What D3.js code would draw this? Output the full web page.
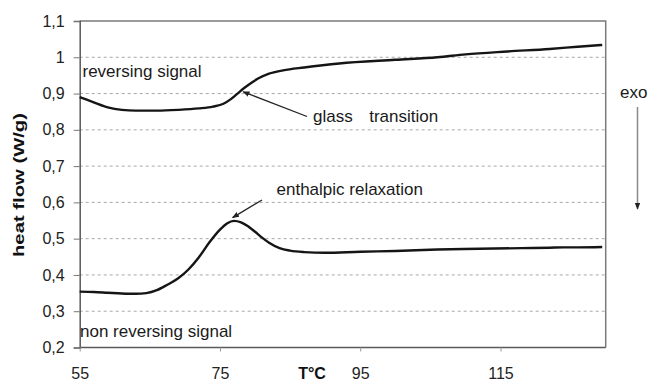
<!DOCTYPE html>
<html>
<head>
<meta charset="utf-8">
<script src="https://cdn.jsdelivr.net/npm/d3@7"></script>
<style>
  html, body { margin: 0; padding: 0; background: #fff; }
  svg { display: block; font-family: "Liberation Sans", Arial, sans-serif; }
</style>
</head>
<body>
<svg id="chart" width="652" height="381"></svg>
<script>
// Temperature axis (°C) and heat-flow ticks (W/g)
const xTicks = [55, 75, 95, 115];
const yTicks = [0.2, 0.3, 0.4, 0.5, 0.6, 0.7, 0.8, 0.9, 1.0, 1.1];
const yTickLabels = ["0,2", "0,3", "0,4", "0,5", "0,6", "0,7", "0,8", "0,9", "1", "1,1"];

// Reversing heat-flow signal
const revT = [55, 57, 59, 61, 63, 66, 69, 72, 74, 75.5, 76.5, 77.5, 78.5, 79.5, 80.5, 82, 84, 87, 92, 100, 106, 110, 116, 122, 126, 129.5];
const revV = [0.890, 0.876, 0.862, 0.855, 0.853, 0.853, 0.855, 0.859, 0.864, 0.872, 0.884, 0.900, 0.916, 0.930, 0.942, 0.955, 0.964, 0.972, 0.983, 0.993, 1.000, 1.008, 1.016, 1.023, 1.029, 1.034];

// Non-reversing heat-flow signal
const nonT = [55, 57, 59, 61, 63, 64.5, 66, 67.5, 69, 70.5, 72, 73.5, 75, 76, 77, 78, 79, 80, 81, 82, 83.5, 85, 87, 90, 95, 100, 106, 112, 118, 122, 124, 126, 129.5];
const nonV = [0.354, 0.353, 0.351, 0.349, 0.348, 0.350, 0.358, 0.373, 0.390, 0.415, 0.449, 0.490, 0.525, 0.542, 0.549, 0.545, 0.534, 0.519, 0.503, 0.489, 0.474, 0.467, 0.463, 0.461, 0.464, 0.466, 0.470, 0.472, 0.474, 0.475, 0.476, 0.476, 0.477];

const svg = d3.select("#chart");
const plotLeft = 79.7, plotRight = 605.7, plotTop = 21, plotBottom = 347.5;

const x = d3.scaleLinear().domain([55, 130]).range([plotLeft, plotRight]);
const y = d3.scaleLinear().domain([0.2, 1.1]).range([plotBottom, plotTop]);

// dashed horizontal gridlines
svg.append("g")
  .selectAll("line")
  .data(yTicks.filter(v => v > 0.25 && v < 1.05))
  .join("line")
  .attr("x1", plotLeft).attr("x2", plotRight)
  .attr("y1", d => y(d)).attr("y2", d => y(d))
  .attr("stroke", "#a8a8a8")
  .attr("stroke-width", 1)
  .attr("stroke-dasharray", "3,3");

// plot frame (top and right)
svg.append("path")
  .attr("d", `M${plotLeft},${plotTop}H${plotRight}V${plotBottom}`)
  .attr("fill", "none")
  .attr("stroke", "#7a7a7a")
  .attr("stroke-width", 1.5);

// y axis
const yAxis = d3.axisLeft(y)
  .tickValues(yTicks)
  .tickSize(6)
  .tickFormat((d, i) => yTickLabels[i]);
const gy = svg.append("g").attr("transform", `translate(${plotLeft},0)`).call(yAxis);
gy.select(".domain").attr("stroke", "#5a5a5a").attr("stroke-width", 1.5);
gy.selectAll(".tick line").attr("stroke", "#777").attr("stroke-width", 1);
gy.selectAll(".tick text")
  .attr("x", -15)
  .attr("fill", "#222")
  .style("font-size", "16px")
  .style("font-family", "'Liberation Sans', Arial, sans-serif");

// x axis
const xAxis = d3.axisBottom(x)
  .tickValues(xTicks)
  .tickSize(4)
  .tickSizeOuter(0)
  .tickFormat(d3.format("d"));
const gx = svg.append("g").attr("transform", `translate(0,${plotBottom})`).call(xAxis);
gx.select(".domain").attr("stroke", "#5a5a5a").attr("stroke-width", 1.5)
  .attr("d", `M${plotLeft},0H${plotRight}`);
gx.selectAll(".tick line").attr("stroke", "#999").attr("stroke-width", 1);
gx.selectAll(".tick text")
  .attr("y", 20)
  .attr("dy", "0.71em")
  .attr("fill", "#222")
  .style("font-size", "16px")
  .style("font-family", "'Liberation Sans', Arial, sans-serif");

// axis titles
svg.append("text")
  .attr("x", 312).attr("y", 379)
  .attr("text-anchor", "middle")
  .attr("font-weight", "bold")
  .attr("font-size", 16)
  .attr("fill", "#111")
  .text("T°C");

svg.append("text")
  .attr("transform", "translate(24,185) rotate(-90)")
  .attr("text-anchor", "middle")
  .attr("font-weight", "bold")
  .attr("font-size", 14)
  .attr("textLength", 144)
  .attr("lengthAdjust", "spacingAndGlyphs")
  .attr("fill", "#111")
  .text("heat flow (W/g)");

// signal curves
const line = d3.line()
  .x(d => x(d[0]))
  .y(d => y(d[1]))
  .curve(d3.curveMonotoneX);

[[revT, revV], [nonT, nonV]].forEach(([ts, vs]) => {
  svg.append("path")
    .datum(d3.zip(ts, vs))
    .attr("d", line)
    .attr("fill", "none")
    .attr("stroke", "#151515")
    .attr("stroke-width", 2.4)
    .attr("stroke-linejoin", "round");
});

// arrowhead markers
const defs = svg.append("defs");
defs.append("marker")
  .attr("id", "head")
  .attr("viewBox", "0 0 10 10")
  .attr("refX", 9).attr("refY", 5)
  .attr("markerWidth", 7).attr("markerHeight", 7)
  .attr("markerUnits", "userSpaceOnUse")
  .attr("orient", "auto")
  .append("path").attr("d", "M0,1L10,5L0,9z").attr("fill", "#222");

// annotation labels
const label = (tx, ty, s) => svg.append("text")
  .attr("x", tx).attr("y", ty)
  .attr("font-size", 17)
  .attr("fill", "#1a1a1a")
  .text(s);

label(82.5, 77, "reversing signal");
label(80, 337, "non reversing signal");
label(276.5, 195, "enthalpic relaxation");
const gt = label(313, 122, "glass");
gt.append("tspan").attr("dx", 16.5).text("transition");

// annotation arrows pointing at the curves
svg.append("line")
  .attr("x1", 307).attr("y1", 116.5)
  .attr("x2", x(78.3)).attr("y2", y(0.905))
  .attr("stroke", "#222").attr("stroke-width", 1.3)
  .attr("marker-end", "url(#head)");

svg.append("line")
  .attr("x1", 262).attr("y1", 200)
  .attr("x2", x(76.8)).attr("y2", y(0.558))
  .attr("stroke", "#222").attr("stroke-width", 1.3)
  .attr("marker-end", "url(#head)");

// exo direction indicator
label(620, 98, "exo");
svg.append("line")
  .attr("x1", 637.5).attr("y1", 107)
  .attr("x2", 637.5).attr("y2", 209)
  .attr("stroke", "#8a8a8a").attr("stroke-width", 1.5)
  .attr("marker-end", "url(#head)");
</script>
</body>
</html>
